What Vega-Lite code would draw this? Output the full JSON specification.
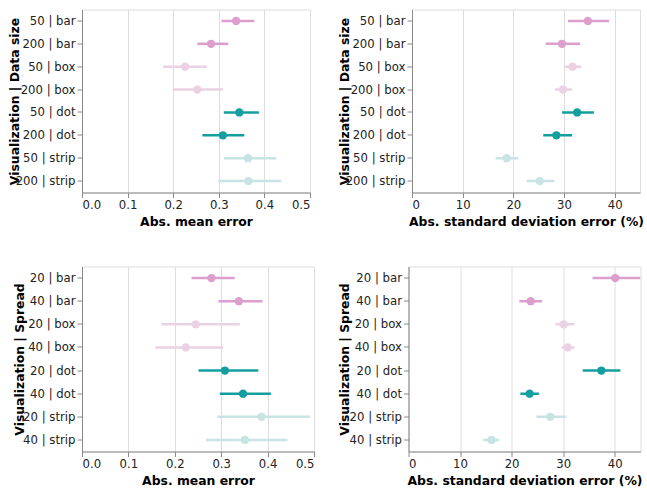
{
  "$schema": "https://vega.github.io/schema/vega-lite/v6.json",
  "padding": {"top": 8.5, "left": 7, "right": 0, "bottom": 0},
  "align": "none",
  "spacing": 37,
  "config": {
    "font": "DejaVu Sans",
    "axis": {"labelFontSize": 11.7, "titleFontSize": 12.4, "titleFontWeight": "bold", "labelColor": "#222", "titleColor": "#000"},
    "view": {"stroke": "#ddd"}
  },
  "datasets": {
    "rows": [
      {"grp": "size", "label": "50 | bar", "vis": "bar", "mean": 0.338, "mean_lo": 0.306, "mean_hi": 0.378, "sd": 34.7, "sd_lo": 30.8, "sd_hi": 38.9},
      {"grp": "size", "label": "200 | bar", "vis": "bar", "mean": 0.283, "mean_lo": 0.253, "mean_hi": 0.321, "sd": 29.6, "sd_lo": 26.4, "sd_hi": 33.2},
      {"grp": "size", "label": "50 | box", "vis": "box", "mean": 0.226, "mean_lo": 0.178, "mean_hi": 0.274, "sd": 31.7, "sd_lo": 30.2, "sd_hi": 33.4},
      {"grp": "size", "label": "200 | box", "vis": "box", "mean": 0.253, "mean_lo": 0.199, "mean_hi": 0.309, "sd": 29.8, "sd_lo": 28.2, "sd_hi": 31.6},
      {"grp": "size", "label": "50 | dot", "vis": "dot", "mean": 0.345, "mean_lo": 0.311, "mean_hi": 0.388, "sd": 32.6, "sd_lo": 29.6, "sd_hi": 35.9},
      {"grp": "size", "label": "200 | dot", "vis": "dot", "mean": 0.309, "mean_lo": 0.264, "mean_hi": 0.356, "sd": 28.5, "sd_lo": 25.9, "sd_hi": 31.6},
      {"grp": "size", "label": "50 | strip", "vis": "strip", "mean": 0.364, "mean_lo": 0.311, "mean_hi": 0.426, "sd": 18.7, "sd_lo": 16.5, "sd_hi": 21.0},
      {"grp": "size", "label": "200 | strip", "vis": "strip", "mean": 0.365, "mean_lo": 0.299, "mean_hi": 0.437, "sd": 25.2, "sd_lo": 22.6, "sd_hi": 28.1},
      {"grp": "spread", "label": "20 | bar", "vis": "bar", "mean": 0.279, "mean_lo": 0.236, "mean_hi": 0.329, "sd": 40.1, "sd_lo": 35.7, "sd_hi": 45.0},
      {"grp": "spread", "label": "40 | bar", "vis": "bar", "mean": 0.338, "mean_lo": 0.294, "mean_hi": 0.389, "sd": 23.7, "sd_lo": 21.5, "sd_hi": 25.9},
      {"grp": "spread", "label": "20 | box", "vis": "box", "mean": 0.245, "mean_lo": 0.171, "mean_hi": 0.340, "sd": 30.1, "sd_lo": 28.5, "sd_hi": 32.2},
      {"grp": "spread", "label": "40 | box", "vis": "box", "mean": 0.224, "mean_lo": 0.158, "mean_hi": 0.304, "sd": 30.9, "sd_lo": 29.7, "sd_hi": 32.2},
      {"grp": "spread", "label": "20 | dot", "vis": "dot", "mean": 0.308, "mean_lo": 0.251, "mean_hi": 0.380, "sd": 37.4, "sd_lo": 33.8, "sd_hi": 41.1},
      {"grp": "spread", "label": "40 | dot", "vis": "dot", "mean": 0.347, "mean_lo": 0.297, "mean_hi": 0.407, "sd": 23.5, "sd_lo": 21.7, "sd_hi": 25.3},
      {"grp": "spread", "label": "20 | strip", "vis": "strip", "mean": 0.387, "mean_lo": 0.292, "mean_hi": 0.491, "sd": 27.5, "sd_lo": 24.8, "sd_hi": 30.6},
      {"grp": "spread", "label": "40 | strip", "vis": "strip", "mean": 0.351, "mean_lo": 0.267, "mean_hi": 0.443, "sd": 16.1, "sd_lo": 14.5, "sd_hi": 17.6}
    ]
  },
  "vconcat": [
    {
      "hconcat": [
        {
          "width": 228, "height": 183,
          "data": {"name": "rows"},
          "transform": [{"filter": "datum.grp === 'size'"}],
          "encoding": {
            "y": {"field": "label", "type": "nominal", "sort": null, "title": "Visualization | Data size", "axis": {"grid": false, "titlePadding": -6}},
            "color": {"field": "vis", "type": "nominal", "legend": null, "scale": {"domain": ["bar", "box", "dot", "strip"], "range": ["#dc9ecd", "#ebd1e4", "#149e9f", "#c8e3e3"]}}
          },
          "layer": [
            {"mark": {"type": "rule", "strokeWidth": 2.6}, "encoding": {"x": {"field": "mean_lo", "type": "quantitative", "scale": {"domain": [0, 0.5]}, "title": "Abs. mean error", "axis": {"format": ".1f", "tickCount": 5}}, "x2": {"field": "mean_hi"}}},
            {"mark": {"type": "point", "filled": true, "opacity": 1, "size": 70}, "encoding": {"x": {"field": "mean", "type": "quantitative"}}}
          ]
        },
        {
          "width": 228, "height": 183,
          "data": {"name": "rows"},
          "transform": [{"filter": "datum.grp === 'size'"}],
          "encoding": {
            "y": {"field": "label", "type": "nominal", "sort": null, "title": "Visualization | Data size", "axis": {"grid": false, "titlePadding": -6}},
            "color": {"field": "vis", "type": "nominal", "legend": null, "scale": {"domain": ["bar", "box", "dot", "strip"], "range": ["#dc9ecd", "#ebd1e4", "#149e9f", "#c8e3e3"]}}
          },
          "layer": [
            {"mark": {"type": "rule", "strokeWidth": 2.6, "clip": true}, "encoding": {"x": {"field": "sd_lo", "type": "quantitative", "scale": {"domain": [0, 45], "nice": false}, "title": "Abs. standard deviation error (%)", "axis": {"values": [0, 10, 20, 30, 40]}}, "x2": {"field": "sd_hi"}}},
            {"mark": {"type": "point", "filled": true, "opacity": 1, "size": 70}, "encoding": {"x": {"field": "sd", "type": "quantitative"}}}
          ]
        }
      ],
      "spacing": 26
    },
    {
      "hconcat": [
        {
          "width": 232, "height": 185,
          "data": {"name": "rows"},
          "transform": [{"filter": "datum.grp === 'spread'"}],
          "encoding": {
            "y": {"field": "label", "type": "nominal", "sort": null, "title": "Visualization | Spread", "axis": {"grid": false, "titlePadding": -4}},
            "color": {"field": "vis", "type": "nominal", "legend": null, "scale": {"domain": ["bar", "box", "dot", "strip"], "range": ["#dc9ecd", "#ebd1e4", "#149e9f", "#c8e3e3"]}}
          },
          "layer": [
            {"mark": {"type": "rule", "strokeWidth": 2.6}, "encoding": {"x": {"field": "mean_lo", "type": "quantitative", "scale": {"domain": [0, 0.5]}, "title": "Abs. mean error", "axis": {"format": ".1f", "tickCount": 5}}, "x2": {"field": "mean_hi"}}},
            {"mark": {"type": "point", "filled": true, "opacity": 1, "size": 70}, "encoding": {"x": {"field": "mean", "type": "quantitative"}}}
          ]
        },
        {
          "width": 232, "height": 185,
          "data": {"name": "rows"},
          "transform": [{"filter": "datum.grp === 'spread'"}],
          "encoding": {
            "y": {"field": "label", "type": "nominal", "sort": null, "title": "Visualization | Spread", "axis": {"grid": false, "titlePadding": -2.4}},
            "color": {"field": "vis", "type": "nominal", "legend": null, "scale": {"domain": ["bar", "box", "dot", "strip"], "range": ["#dc9ecd", "#ebd1e4", "#149e9f", "#c8e3e3"]}}
          },
          "layer": [
            {"mark": {"type": "rule", "strokeWidth": 2.6, "clip": true}, "encoding": {"x": {"field": "sd_lo", "type": "quantitative", "scale": {"domain": [0, 45], "nice": false}, "title": "Abs. standard deviation error (%)", "axis": {"values": [0, 10, 20, 30, 40]}}, "x2": {"field": "sd_hi"}}},
            {"mark": {"type": "point", "filled": true, "opacity": 1, "size": 70}, "encoding": {"x": {"field": "sd", "type": "quantitative"}}}
          ]
        }
      ],
      "spacing": 22.5
    }
  ]
}
